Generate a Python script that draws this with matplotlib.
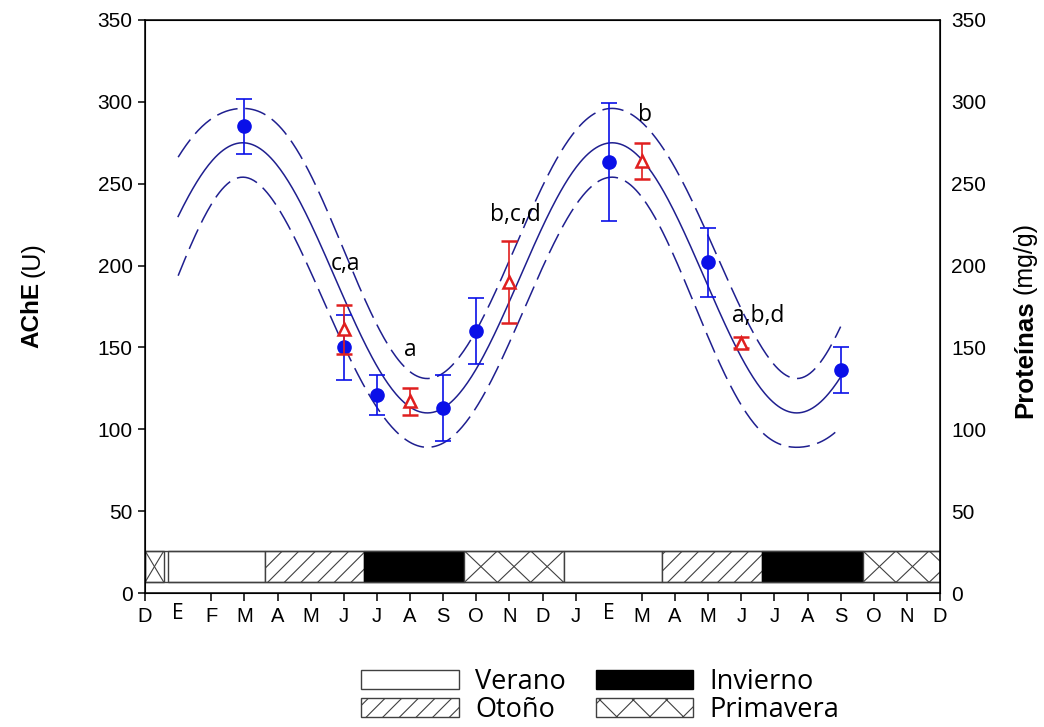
import numpy as np
import matplotlib.pyplot as plt
from matplotlib.patches import Patch, Rectangle

plt.rcParams['font.family'] = ['Liberation Sans', 'DejaVu Sans']
plt.rcParams['hatch.linewidth'] = 0.8

# months from December to December two years later
month_labels = ['D', 'E', 'F', 'M', 'A', 'M', 'J', 'J', 'A', 'S', 'O', 'N',
                'D', 'J', 'E', 'M', 'A', 'M', 'J', 'J', 'A', 'S', 'O', 'N', 'D']

# AChE activity (left axis), mean +- error
ache_month = [3, 6, 7, 9, 10, 14, 17, 21]
ache_mean = [285, 150, 121, 113, 160, 263, 202, 136]
ache_err = [17, 20, 12, 20, 20, 36, 21, 14]

# proteins (right axis), mean +- error and significance letters
prot_month = [6, 8, 11, 15, 18]
prot_mean = [161, 117, 190, 264, 153]
prot_err = [15, 8, 25, 11, 3.5]
prot_letters = ['c,a', 'a', 'b,c,d', 'b', 'a,b,d']

# cosinor fit of AChE and its confidence band
fit_mesor = 192.5
fit_amplitude = 82.5
fit_acrophase = 2.95   # month of the peak
fit_period = 11.15     # months
fit_start, fit_end = 1.0, 21.0
band_base = 21.0
band_phase = 14.0
band_growth = 3.0
band_center = 11.0

# seasons strip
season_names = ['Primavera', 'Verano', 'Otoño', 'Invierno', 'Primavera',
                'Verano', 'Otoño', 'Invierno', 'Primavera']
season_start = [0.0, 0.68, 3.63, 6.62, 9.64, 12.64, 15.61, 18.63, 21.67]
season_end = [0.57, 3.63, 6.62, 9.64, 12.64, 15.61, 18.63, 21.67, 24.0]
season_low, season_high = 6.5, 25.8

fit_color = '#1f1f8f'
point_color = '#0a10e8'
red = '#e01f1f'
edge = '#404040'

fig = plt.figure(figsize=(10.44, 7.27), dpi=100)
ax = fig.add_axes([0.1389, 0.1843, 0.7615, 0.7882])

# fitted curve + band
t = np.linspace(fit_start, fit_end, 500)
theta = 2 * np.pi * (t - fit_acrophase) / fit_period
fit = fit_mesor + fit_amplitude * np.cos(theta)
half = np.sqrt(band_base ** 2 + np.sin(theta) ** 2 *
               (band_phase ** 2 + (band_growth * (t - band_center)) ** 2))
ax.plot(t, fit, color=fit_color, lw=1.1)
ax.plot(t, fit + half, color=fit_color, lw=1.1, dashes=(14, 5))
ax.plot(t, fit - half, color=fit_color, lw=1.1, dashes=(14, 5))

ax.errorbar(ache_month, ache_mean, yerr=ache_err, fmt='o', ms=9.5,
            color=point_color, ecolor=point_color, elinewidth=1.2,
            capsize=6, capthick=1.2, zorder=3)

# season bars
style = {'Verano': dict(facecolor='white', hatch=None),
         'Otoño': dict(facecolor='white', hatch='//'),
         'Invierno': dict(facecolor='black', hatch=None),
         'Primavera': dict(facecolor='white', hatch=None)}
widths = np.subtract(season_end, season_start)
bars = ax.bar(season_start, season_high - season_low, width=widths,
              bottom=season_low, align='edge', edgecolor=edge, lw=1.0)
for bar, name in zip(bars, season_names):
    bar.set_facecolor(style[name]['facecolor'])
    if style[name]['hatch']:
        bar.set_hatch(style[name]['hatch'])
    if name == 'Invierno':
        bar.set_edgecolor('black')
    if name == 'Primavera':
        # large crosses, one per month
        x0, x1 = bar.get_x(), bar.get_x() + bar.get_width()
        cell = min(1.0, x1 - x0)
        c = x0
        while c < x1 - 1e-6:
            for ya, yb in ((season_low, season_high), (season_high, season_low)):
                ln, = ax.plot([c, c + cell], [ya, yb], color=edge, lw=0.8)
                ln.set_clip_path(bar)
            c += cell
ax.add_patch(Rectangle((season_start[0], season_low),
                       season_end[-1] - season_start[0],
                       season_high - season_low, fill=False,
                       edgecolor=edge, lw=1.0))

ax.set_xlim(0, 24)
ax.set_ylim(0, 350)
ax.set_yticks(range(0, 351, 50))
ax.set_xticks(range(len(month_labels)))
ax.set_xticklabels(month_labels)
ax.tick_params(axis='y', direction='out', length=5, width=1.1, labelsize=15, pad=4)
ax.tick_params(axis='x', direction='out', length=6, width=1.1, labelsize=14.5, pad=4)
for tick, lab in zip(ax.xaxis.get_major_ticks(), month_labels):
    if lab == 'E':
        tick.tick1line.set_visible(False)
        tick.label1.set_fontfamily('Open Sans')
        tick.label1.set_fontsize(15)
        tick.set_pad(1.5)
for sp in ax.spines.values():
    sp.set_linewidth(1.1)

# proteins on the right axis
ax2 = ax.twinx()
ax2.set_ylim(0, 350)
ax2.set_yticks(range(0, 351, 50))
ax2.tick_params(axis='y', length=0, labelsize=15, pad=8)
ax2.errorbar(prot_month, prot_mean, yerr=prot_err, fmt='^', ms=8,
             mfc='white', mec=red, mew=1.8, ecolor=red, elinewidth=1.2,
             capsize=6, capthick=1.2, zorder=3)
letter_offsets = [(1, 43), (0, 33), (4, 44), (2, 29), (12.5, 15)]
for m, v, s, off in zip(prot_month, prot_mean, prot_letters, letter_offsets):
    ax2.annotate(s, (m, v), xytext=off, textcoords='offset points',
                 ha='center', va='baseline', fontsize=16.5,
                 fontfamily='Open Sans')

# axis titles, bold name + plain unit
fig.text(32 / 1044, 1 - 282 / 727, 'AChE', rotation=90, rotation_mode='anchor',
         ha='right', va='center', fontsize=17.5, fontweight='bold')
fig.text(32 / 1044, 1 - 277 / 727, '(U)', rotation=90, rotation_mode='anchor',
         ha='left', va='center', fontsize=18)
fig.text(1025 / 1044, 1 - 300 / 727, 'Proteínas', rotation=90, rotation_mode='anchor',
         ha='right', va='center', fontsize=18.5, fontweight='bold')
fig.text(1025 / 1044, 1 - 294 / 727, '(mg/g)', rotation=90, rotation_mode='anchor',
         ha='left', va='center', fontsize=18)

handles = [Patch(facecolor='white', edgecolor=edge, lw=1.0),
           Patch(facecolor='white', edgecolor=edge, hatch='//', lw=1.0),
           Patch(facecolor='black', edgecolor='black', lw=1.0),
           Patch(facecolor='white', edgecolor=edge, hatch='x', lw=1.0)]
fig.legend(handles, ['Verano', 'Otoño', 'Invierno', 'Primavera'], ncol=2,
           loc='lower center', bbox_to_anchor=(0.575, -0.015), frameon=False,
           prop={'family': 'Open Sans', 'size': 19.5}, handlelength=3.6,
           handleheight=0.7, handletextpad=0.6, columnspacing=1.1,
           labelspacing=0.0, borderpad=0.0)

fig.savefig('out.png', dpi=100)
